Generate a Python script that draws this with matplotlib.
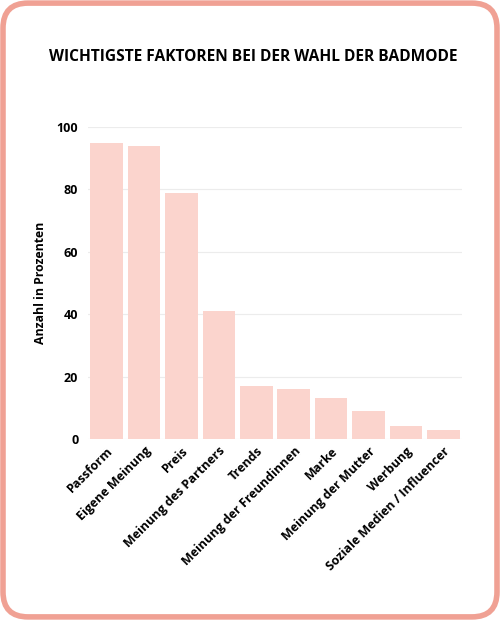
import matplotlib.pyplot as plt
from matplotlib.patches import FancyBboxPatch

plt.rcParams['font.family'] = ['Open Sans', 'DejaVu Sans']

# data
categories = ['Passform', 'Eigene Meinung', 'Preis', 'Meinung des Partners', 'Trends',
              'Meinung der Freundinnen', 'Marke', 'Meinung der Mutter', 'Werbung',
              'Soziale Medien / Influencer']
values = [95, 94, 79, 41, 17, 16, 13, 9, 4, 3]
yticks = [0, 20, 40, 60, 80, 100]

fig = plt.figure(figsize=(5, 6.2), dpi=100, facecolor='white')

# rounded salmon frame around the card
frame = FancyBboxPatch((0.006, 0.005), 0.988, 0.99, boxstyle='round,pad=0,rounding_size=0.05',
                       transform=fig.transFigure, facecolor='none', edgecolor='#f0a194',
                       linewidth=4, mutation_aspect=500 / 620, zorder=10)
fig.patches.append(frame)

ax = fig.add_axes([0.176, 0.292, 0.748, 0.503])
ax.set_facecolor('none')
ax.bar(range(len(values)), values, width=0.87, color='#fbd4cd', zorder=2)
ax.set_xlim(-0.5, len(values) - 0.5)
ax.set_ylim(0, 100)
ax.set_yticks(yticks)
ax.set_yticklabels([str(t) for t in yticks], fontsize=9, fontweight='bold')
ax.set_xticks(range(len(values)))
ax.set_xticklabels(categories, rotation=45, ha='right', rotation_mode='anchor',
                   fontsize=9, fontweight='bold')
ax.tick_params(length=0, pad=7)
ax.tick_params(axis='x', pad=4)
ax.grid(axis='y', color='#ececec', linewidth=0.8, zorder=0)
for s in ax.spines.values():
    s.set_visible(False)
ax.set_ylabel('Anzahl in Prozenten', fontsize=8.8, fontweight='bold', labelpad=7)

fig.text(0.506, 0.908, 'WICHTIGSTE FAKTOREN BEI DER WAHL DER BADMODE', ha='center', va='center',
         fontsize=11.2, fontweight='bold')

plt.savefig('out.png', dpi=100)
